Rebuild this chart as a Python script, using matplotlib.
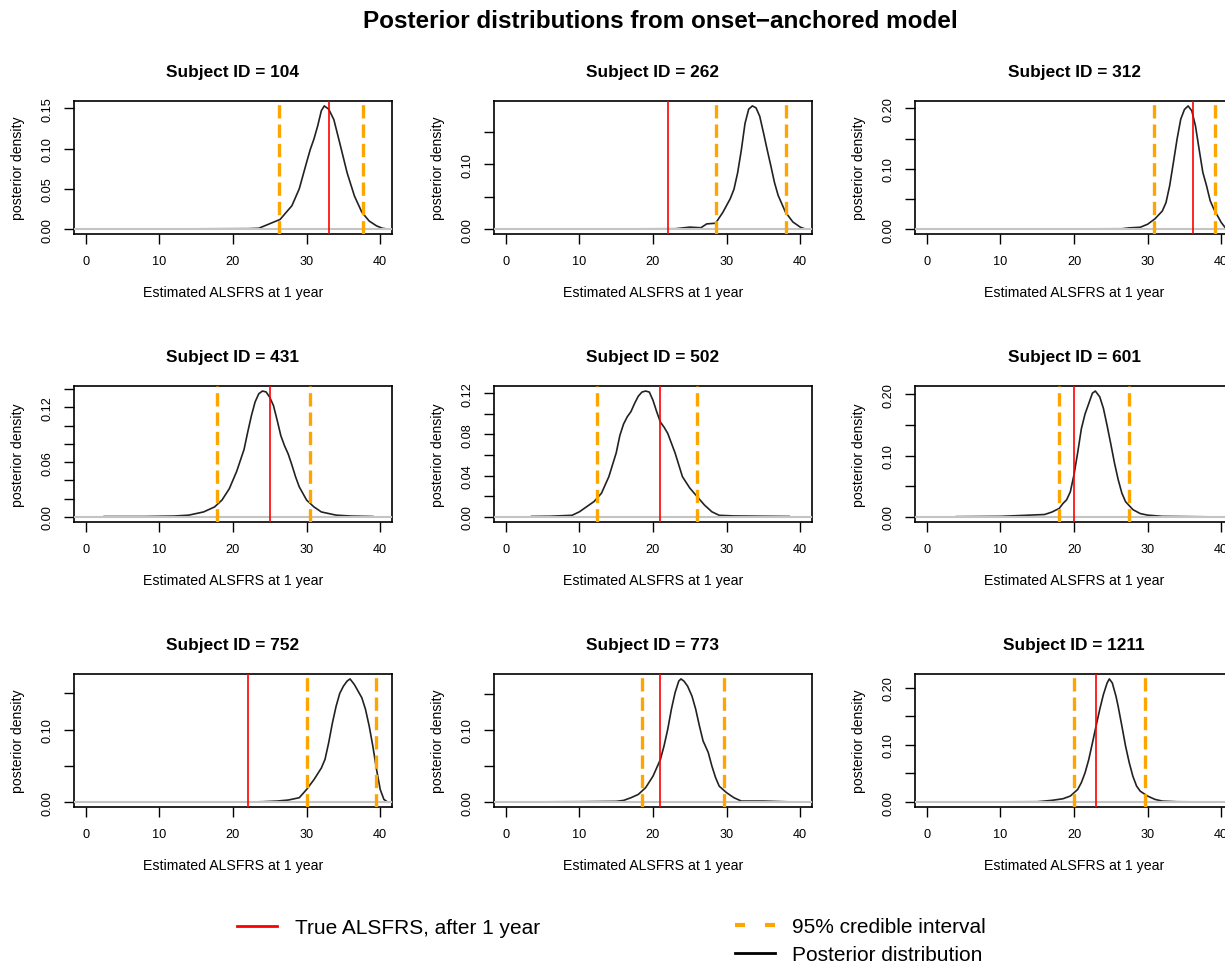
import matplotlib.pyplot as plt
import numpy as np

plt.rcParams['font.family'] = ['Liberation Sans', 'DejaVu Sans']

subjects = [104, 262, 312, 431, 502, 601, 752, 773, 1211]
true_alsfrs = [33.0, 22.0, 36.2, 25.0, 21.0, 20.0, 22.0, 21.0, 23.0]
ci_low = [26.3, 28.6, 30.9, 17.8, 12.4, 17.9, 30.0, 18.5, 20.0]
ci_high = [37.6, 38.0, 39.2, 30.5, 26.0, 27.5, 39.4, 29.6, 29.6]

# posterior density curves
x_104 = [5.9, 15, 22, 23.5, 26.4, 28, 29, 30, 30.5, 31, 31.5, 32, 32.4, 33, 33.7, 34.5, 35.5, 36.5, 37.5, 38.5, 39.5, 40.3, 41]
d_104 = [0.0003, 0.0003, 0.0005, 0.001, 0.012, 0.029, 0.05, 0.083, 0.099, 0.112, 0.128, 0.147, 0.153, 0.149, 0.136, 0.107, 0.070, 0.041, 0.021, 0.010, 0.004, 0.001, 0.0]

x_262 = [5.3, 15, 23, 25, 26.5, 27.3, 28.5, 29.5, 30.5, 31, 31.5, 32, 32.5, 33, 33.5, 34, 34.5, 35, 35.5, 36, 36.5, 37, 38, 39, 40, 40.7]
d_262 = [0.0003, 0.0003, 0.0005, 0.003, 0.002, 0.008, 0.009, 0.026, 0.047, 0.0615, 0.087, 0.122, 0.163, 0.185, 0.19, 0.187, 0.174, 0.149, 0.123, 0.098, 0.072, 0.052, 0.026, 0.011, 0.003, 0.0]

x_312 = [8.5, 20, 26.5, 27.5, 29, 30, 31, 32, 32.5, 33, 33.5, 34, 34.5, 35, 35.5, 36, 36.5, 37, 37.5, 38, 38.5, 39, 39.5, 40, 40.5, 41]
d_312 = [0.0003, 0.0003, 0.0005, 0.002, 0.003, 0.008, 0.017, 0.030, 0.044, 0.072, 0.11, 0.149, 0.182, 0.198, 0.204, 0.196, 0.171, 0.132, 0.094, 0.072, 0.047, 0.033, 0.022, 0.011, 0.003, 0.0]

x_431 = [2.5, 8, 12, 14, 16, 17.5, 18.5, 19.5, 20.5, 21.5, 22, 22.5, 23, 23.5, 24, 24.5, 25, 25.5, 26, 26.5, 27, 27.5, 28, 28.5, 29, 30, 31, 32, 34, 36, 39]
d_431 = [0.0005, 0.0005, 0.001, 0.002, 0.0055, 0.011, 0.0185, 0.031, 0.05, 0.074, 0.093, 0.111, 0.126, 0.135, 0.138, 0.137, 0.131, 0.122, 0.106, 0.089, 0.078, 0.069, 0.057, 0.044, 0.033, 0.0185, 0.011, 0.0055, 0.002, 0.001, 0.0005]

x_502 = [3.5, 6, 9, 10, 11, 12, 13, 14, 15, 15.5, 16, 16.5, 17, 17.5, 18, 18.5, 19, 19.5, 20, 20.5, 21, 21.5, 22, 23, 24, 25, 26, 27, 28, 29, 31, 35, 38.5]
d_502 = [0.0005, 0.0007, 0.0016, 0.005, 0.01, 0.015, 0.023, 0.039, 0.062, 0.079, 0.09, 0.097, 0.102, 0.11, 0.117, 0.121, 0.122, 0.121, 0.113, 0.102, 0.092, 0.087, 0.081, 0.062, 0.039, 0.028, 0.0197, 0.0115, 0.005, 0.0016, 0.001, 0.0007, 0.0005]

x_601 = [4, 10, 14, 16, 17, 18, 18.5, 19, 19.5, 20, 20.5, 21, 21.5, 22, 22.5, 22.9, 23.5, 24, 24.5, 25, 25.5, 26, 26.5, 27, 28, 29, 30, 32, 36, 40]
d_601 = [0.0005, 0.001, 0.003, 0.004, 0.008, 0.014, 0.022, 0.028, 0.041, 0.069, 0.105, 0.144, 0.168, 0.185, 0.202, 0.2055, 0.196, 0.177, 0.149, 0.119, 0.088, 0.061, 0.039, 0.025, 0.012, 0.0055, 0.003, 0.001, 0.0005, 0.0]

x_752 = [20.8, 22, 24, 26, 27.5, 29, 30, 31, 32, 32.5, 33, 33.5, 34, 34.5, 35, 35.5, 35.9, 36.5, 37, 37.5, 38, 38.5, 39, 39.5, 40, 40.5, 41]
d_752 = [0.0, 0.0, 0.0005, 0.0014, 0.0028, 0.006, 0.0174, 0.031, 0.047, 0.059, 0.082, 0.109, 0.132, 0.15, 0.16, 0.167, 0.17, 0.162, 0.153, 0.144, 0.128, 0.105, 0.077, 0.045, 0.0174, 0.0037, 0.0]

x_773 = [4.5, 10, 15, 16, 17, 18, 19, 20, 21, 21.5, 22, 22.5, 23, 23.5, 23.8, 24.2, 24.7, 25.3, 25.8, 26.3, 26.8, 27.5, 28, 28.5, 29, 30, 31, 32, 35, 39.5]
d_773 = [0.0003, 0.0005, 0.001, 0.0023, 0.006, 0.0106, 0.02, 0.036, 0.059, 0.078, 0.101, 0.129, 0.152, 0.168, 0.171, 0.168, 0.161, 0.147, 0.129, 0.106, 0.085, 0.069, 0.05, 0.034, 0.022, 0.013, 0.006, 0.0014, 0.0014, 0.0]

x_1211 = [0.0, 8, 15, 17, 18.5, 19.5, 20.5, 21, 21.5, 22, 22.5, 23, 23.5, 24, 24.5, 24.8, 25.2, 25.7, 26, 26.5, 27, 27.5, 28, 28.5, 29, 30, 31, 32, 34, 40]
d_1211 = [0.0003, 0.0003, 0.0006, 0.003, 0.0058, 0.0105, 0.022, 0.034, 0.051, 0.074, 0.103, 0.133, 0.162, 0.188, 0.208, 0.215, 0.208, 0.185, 0.167, 0.133, 0.098, 0.069, 0.045, 0.028, 0.019, 0.0105, 0.0047, 0.0017, 0.0006, 0.0]

curves_x = [x_104, x_262, x_312, x_431, x_502, x_601, x_752, x_773, x_1211]
curves_d = [d_104, d_262, d_312, d_431, d_502, d_601, d_752, d_773, d_1211]

# y tick step and how often R kept a label
ytick_step = [0.05, 0.05, 0.05, 0.02, 0.02, 0.05, 0.05, 0.05, 0.05]
ylabel_every = [1, 2, 2, 3, 2, 2, 2, 2, 2]

W, H = 1225, 962
fig = plt.figure(figsize=(W / 100, H / 100), dpi=100)

col_left = [74, 494, 915]
row_top = [102, 387, 675]
row_h = [133, 136, 133]
ax_w = 318

for i, sid in enumerate(subjects):
    r, c = divmod(i, 3)
    left = col_left[c] / W
    bottom = 1 - (row_top[r] + row_h[r]) / H
    ax = fig.add_axes([left, bottom, ax_w / W, row_h[r] / H])

    x = curves_x[i]
    d = curves_d[i]
    ax.plot(x, d, color='#222222', lw=1.2, zorder=2)
    ax.axhline(0, color='#c4c4c4', lw=1.5, zorder=3)
    ax.axvline(true_alsfrs[i], color='red', lw=1.2, zorder=4)
    ax.axvline(ci_low[i], color='orange', lw=2.4, ls=(0, (4, 1.8)), zorder=4)
    ax.axvline(ci_high[i], color='orange', lw=2.4, ls=(0, (4, 1.8)), zorder=4)

    top = max(d)
    ax.set_xlim(-1.6, 41.6)
    ax.set_ylim(-0.04 * top, 1.04 * top)
    ax.set_xticks([0, 10, 20, 30, 40])

    step = ytick_step[i]
    yt = np.arange(0, 1.04 * top, step)
    ax.set_yticks(yt)
    ax.set_yticklabels(['%.2f' % v if k % ylabel_every[i] == 0 else ''
                        for k, v in enumerate(yt)])
    ax.tick_params(axis='both', direction='out', length=7, width=1,
                   labelsize=9.2, pad=8, colors='black')
    for lab in ax.get_yticklabels():
        lab.set_rotation(90)
        lab.set_va('center')
    for sp in ax.spines.values():
        sp.set_linewidth(1.2)

    ax.set_title('Subject ID = %d' % sid, fontsize=12.4, fontweight='bold', pad=18)
    ax.set_xlabel('Estimated ALSFRS at 1 year', fontsize=10.2)
    ax.xaxis.set_label_coords(0.5, -58 / row_h[r])
    ax.xaxis.label.set_va('center')
    ax.set_ylabel('posterior density', fontsize=10.1)
    ax.yaxis.set_label_coords(-56 / ax_w, 0.5)
    ax.yaxis.label.set_va('center')

fig.text(660 / W, 1 - 22 / H, 'Posterior distributions from onset\u2212anchored model',
         ha='center', va='center', fontsize=17.5, fontweight='bold')

leg_font = {'family': ['Liberation Sans Narrow', 'Liberation Sans'], 'size': 15}
h_true = plt.Line2D([], [], color='red', lw=2)
h_ci = plt.Line2D([], [], color='orange', lw=3, ls=(0, (2.4, 4.8)))
h_post = plt.Line2D([], [], color='black', lw=2)

fig.legend([h_true], ['True ALSFRS, after 1 year'], loc='center left',
           bbox_to_anchor=(237 / W, 1 - 929 / H), frameon=False, prop=leg_font,
           handlelength=1.9, handletextpad=0.9, borderpad=0, borderaxespad=0)
fig.legend([h_ci, h_post], ['95% credible interval', 'Posterior distribution'],
           loc='upper left', bbox_to_anchor=(735 / W, 1 - 918 / H), frameon=False,
           prop=leg_font, handlelength=1.9, handletextpad=0.85, borderpad=0,
           borderaxespad=0, labelspacing=0.45)

fig.savefig('out.png', dpi=100)
